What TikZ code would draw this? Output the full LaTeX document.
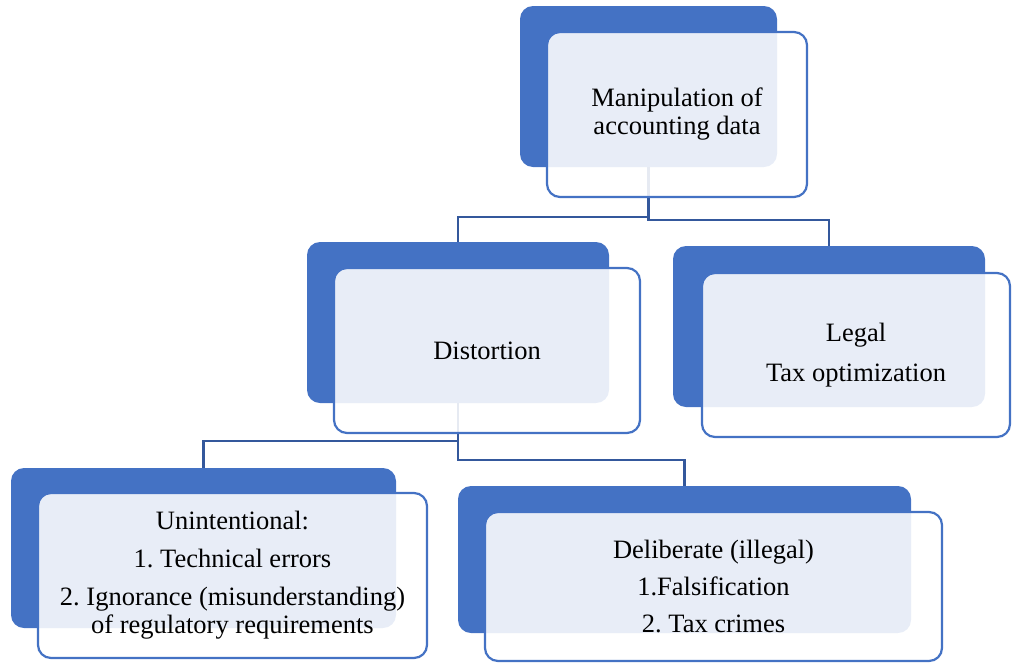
\documentclass[tikz,border=0pt]{standalone}
\usepackage{fontspec}
\setmainfont{Liberation Serif}
\frenchspacing
\definecolor{boxblue}{RGB}{68,114,196}
\definecolor{linkblue}{RGB}{52,88,156}
\begin{document}
\begin{tikzpicture}[x=1pt,y=-1pt,
  backbox/.style={rectangle, rounded corners=13pt, fill=boxblue, draw=none, inner sep=0pt, outer sep=0pt},
  frontbox/.style={rectangle, rounded corners=13pt, draw=boxblue, line width=2.2pt, fill=white, fill opacity=0.88, text opacity=1, inner sep=0pt, outer sep=0pt, align=center, font=\fontsize{26.5}{28}\selectfont\frenchspacing},
  conn/.style={draw=linkblue, line width=2.3pt}]
\useasboundingbox (0,0) rectangle (1012,662);
% back boxes
\node[backbox, minimum width=257pt, minimum height=161pt] (topb) at (648.5,86.5) {};
\node[backbox, minimum width=302pt, minimum height=161pt] (distb) at (458,322.5) {};
\node[backbox, minimum width=312pt, minimum height=161pt] (legb) at (829,326.5) {};
\node[backbox, minimum width=385pt, minimum height=160pt] (unb) at (203.5,548) {};
\node[backbox, minimum width=453pt, minimum height=147pt] (delb) at (684.5,559.5) {};
% connectors
\draw[conn] (topb.south) -- ++(0,50) -| (distb.north);
\draw[conn] (topb.south) -- ++(0,53) -| (legb.north);
\draw[conn] (distb.south) -- ++(0,38) -| (unb.north);
\draw[conn] (distb.south) -- ++(0,57) -| (delb.north);
% front boxes
\node[frontbox, minimum width=260pt, minimum height=165pt] (topf) at (677,114.5) {Manipulation of\\accounting data};
\node[frontbox, minimum width=306pt, minimum height=165pt] (distf) at (487,350.5) {Distortion};
\node[frontbox, minimum width=308pt, minimum height=164pt] (legf) at (856,355) {Legal\\[12pt]Tax optimization};
\node[frontbox, minimum width=389pt, minimum height=165pt] (unf) at (232.5,575.5) {Unintentional:\\[10pt]1. Technical errors\\[10pt]2. Ignorance (misunderstanding)\\of regulatory requirements};
\node[frontbox, minimum width=457pt, minimum height=149pt] (delf) at (713.5,586.5) {Deliberate (illegal)\\[9pt]1.Falsification\\[9pt]2. Tax crimes};
\end{tikzpicture}
\end{document}
